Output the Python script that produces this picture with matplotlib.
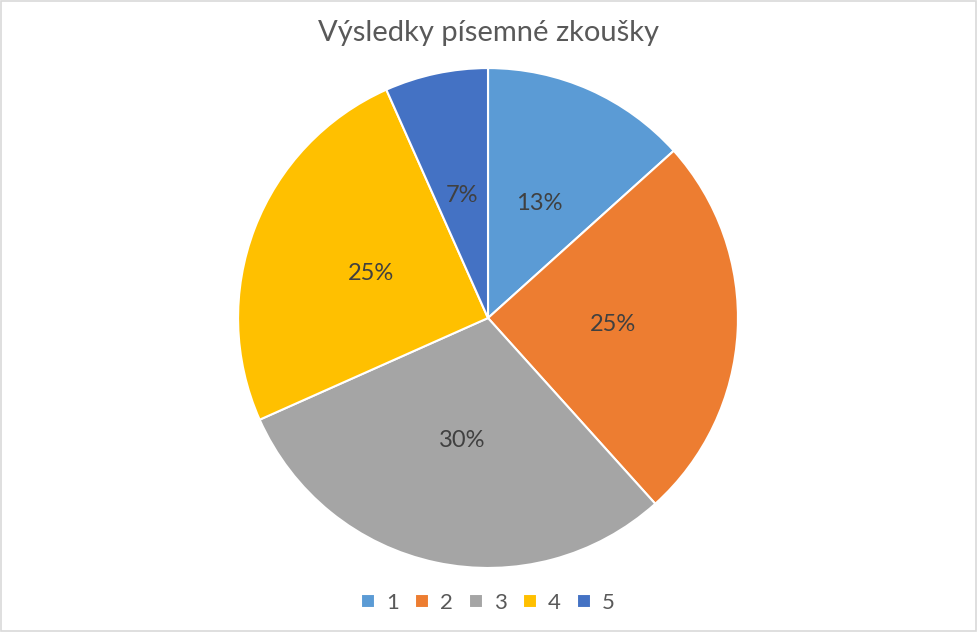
import matplotlib
matplotlib.use("Agg")
import matplotlib.pyplot as plt
from matplotlib.patches import Rectangle

# data
grades = ["1", "2", "3", "4", "5"]
counts = [8, 15, 18, 15, 4]
colors = ["#5B9BD5", "#ED7D31", "#A5A5A5", "#FFC000", "#4472C4"]
title = "Výsledky písemné zkoušky"

plt.rcParams["font.family"] = ["Lato", "DejaVu Sans"]

fig = plt.figure(figsize=(9.77, 6.32), dpi=100)
fig.patch.set_facecolor("white")
# light chart-area border
fig.patches.append(Rectangle((0.001, 0.0015), 0.998, 0.997, transform=fig.transFigure,
                             fill=False, edgecolor="#D9D9D9", linewidth=1.2))

ax = fig.add_axes([0.2436, 0.1013, 0.5118, 0.791])
wedges, texts, autotexts = ax.pie(
    counts, colors=colors, startangle=90, counterclock=False,
    autopct=lambda p: f"{p:.0f}%", pctdistance=0.5,
    wedgeprops=dict(edgecolor="white", linewidth=1.5),
    textprops=dict(color="#404040", fontsize=17))
ax.set_aspect("equal")
ax.set_xlim(-1, 1); ax.set_ylim(-1, 1)

fig.text(0.4995, 1 - 33 / 632, title, ha="center", va="center",
         fontsize=21, color="#595959")

fig.legend(wedges, grades, loc="center", bbox_to_anchor=(0.4995, 1 - 603 / 632),
           ncol=5, frameon=False, fontsize=16, labelcolor="#595959",
           handlelength=0.6, handleheight=0.6, handletextpad=0.5, columnspacing=0.75)

fig.savefig("out.png", dpi=100)
